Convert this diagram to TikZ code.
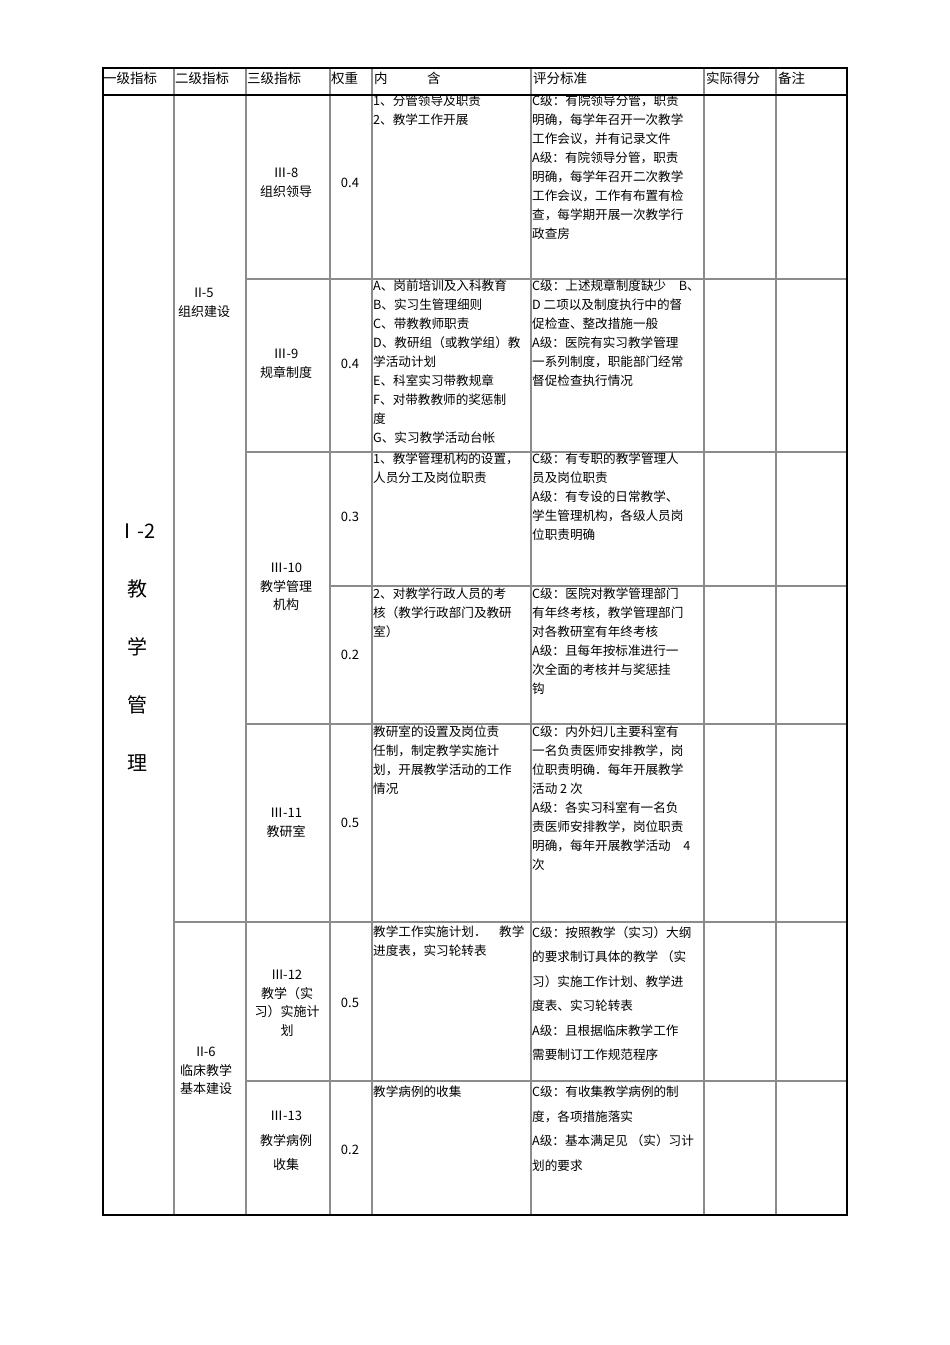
\documentclass[tikz,border=0pt]{standalone}
\usepackage{fontspec}
\setmainfont{Liberation Sans}
\newfontfamily\cjk{Noto Sans CJK SC}
\begin{document}
\begin{tikzpicture}[x=1pt,y=-1pt,
  txt/.style={anchor=north west,align=left,inner sep=0pt,font=\cjk\fontsize{12.6}{19}\selectfont},
  hdr/.style={anchor=west,inner sep=0pt,font=\cjk\fontsize{13.5}{19}\selectfont},
  ctr/.style={align=center,inner sep=0pt,font=\cjk\fontsize{13}{18.5}\selectfont},
  big/.style={ctr,font=\cjk\fontsize{20}{20}\selectfont},
  grid/.style={draw=black!45,line width=1.4pt},
  outer/.style={draw=black,line width=1.6pt}]
\useasboundingbox (0,0) rectangle (950,1345);
\foreach \x in {174,246,330,372,531,704,776} \draw[grid] (\x,68) -- (\x,1215);
\draw[grid] (246,279) -- (847,279);
\draw[grid] (246,452) -- (847,452);
\draw[grid] (330,586) -- (847,586);
\draw[grid] (246,724) -- (847,724);
\draw[grid] (174,922) -- (847,922);
\draw[grid] (246,1081) -- (847,1081);
\draw[outer] (103,95) -- (847,95);
\draw[outer] (103,68) rectangle (847,1215);
% header
\node[hdr] (h1) at (103,78) {一级指标};
\node[hdr] (h2) at (175,78) {二级指标};
\node[hdr] (h3) at (247,78) {三级指标};
\node[hdr] (h4) at (331,78) {权重};
\node[hdr] (h5) at (374,78) {内};
\node[hdr] (h5b) at (427,78) {含};
\node[hdr] (h6) at (533,78) {评分标准};
\node[hdr] (h7) at (706,78) {实际得分};
\node[hdr] (h8) at (778,78) {备注};
% col1
\node[big] (c1a) at (137,531) {Ⅰ-2};
\node[big] (c1b) at (137,589) {教};
\node[big] (c1c) at (137,647) {学};
\node[big] (c1d) at (137,705) {管};
\node[big] (c1e) at (137,763) {理};
% col2
\node[ctr] (ii5) at (204,303) {II-5\\组织建设};
\node[ctr] (ii6) at (206,1071) {II-6\\临床教学\\基本建设};
% col3 + weights
\node[ctr] (r8) at (286,183) {Ⅲ-8\\组织领导};
\node[ctr] (w8) at (350,183) {0.4};
\node[ctr] (r9) at (286,364) {Ⅲ-9\\规章制度};
\node[ctr] (w9) at (350,364) {0.4};
\node[ctr] (r10) at (286,587) {Ⅲ-10\\教学管理\\机构};
\node[ctr] (w10a) at (350,517) {0.3};
\node[ctr] (w10b) at (350,655) {0.2};
\node[ctr] (r11) at (286,823) {Ⅲ-11\\教研室};
\node[ctr] (w11) at (350,823) {0.5};
\node[ctr] (r12) at (287,1003) {III-12\\教学（实\\习）实施计\\划};
\node[ctr] (w12) at (350,1003) {0.5};
\node[ctr,font=\cjk\fontsize{13}{24.5}\selectfont] (r13) at (286,1141) {Ⅲ-13\\教学病例\\收集};
\node[ctr] (w13) at (350,1150) {0.2};
% content
\node[txt] (t8) at (373,95) {1、分管领导及职责\\2、教学工作开展};
\node[txt] (t9) at (373,280) {A、岗前培训及入科教育\\B、实习生管理细则\\C、带教教师职责\\D、教研组（或教学组）教\\学活动计划\\E、科室实习带教规章\\F、对带教教师的奖惩制\\度\\G、实习教学活动台帐};
\node[txt] (t10a) at (373,453) {1、教学管理机构的设置，\\人员分工及岗位职责};
\node[txt] (t10b) at (373,588) {2、对教学行政人员的考\\核（教学行政部门及教研\\室）};
\node[txt] (t11) at (373,726) {教研室的设置及岗位责\\任制，制定教学实施计\\划，开展教学活动的工作\\情况};
\node[txt] (t12) at (373,926) {教学工作实施计划．\quad 教学\\进度表，实习轮转表};
\node[txt] (t13) at (373,1086) {教学病例的收集};
% criteria
\node[txt] (s8) at (532,95) {C级：有院领导分管，职责\\明确，每学年召开一次教学\\工作会议，并有记录文件\\A级：有院领导分管，职责\\明确，每学年召开二次教学\\工作会议，工作有布置有检\\查，每学期开展一次教学行\\政查房};
\node[txt] (s9) at (532,280) {C级：上述规章制度缺少\quad B、\\D 二项以及制度执行中的督\\促检查、整改措施一般\\A级：医院有实习教学管理\\一系列制度，职能部门经常\\督促检查执行情况};
\node[txt] (s10a) at (532,453) {C级：有专职的教学管理人\\员及岗位职责\\A级：有专设的日常教学、\\学生管理机构，各级人员岗\\位职责明确};
\node[txt] (s10b) at (532,588) {C级：医院对教学管理部门\\有年终考核，教学管理部门\\对各教研室有年终考核\\A级：且每年按标准进行一\\次全面的考核并与奖惩挂\\钩};
\node[txt] (s11) at (532,726) {C级：内外妇儿主要科室有\\一名负责医师安排教学，岗\\位职责明确．每年开展教学\\活动 2 次\\A级：各实习科室有一名负\\责医师安排教学，岗位职责\\明确，每年开展教学活动\quad 4\\次};
\node[txt,font=\cjk\fontsize{12.6}{24.5}\selectfont] (s12) at (532,926) {C级：按照教学（实习）大纲\\的要求制订具体的教学 （实\\习）实施工作计划、教学进\\度表、实习轮转表\\A级：且根据临床教学工作\\需要制订工作规范程序};
\node[txt,font=\cjk\fontsize{12.6}{24.5}\selectfont] (s13) at (532,1086) {C级：有收集教学病例的制\\度，各项措施落实\\A级：基本满足见 （实）习计\\划的要求};
\end{tikzpicture}
\end{document}
